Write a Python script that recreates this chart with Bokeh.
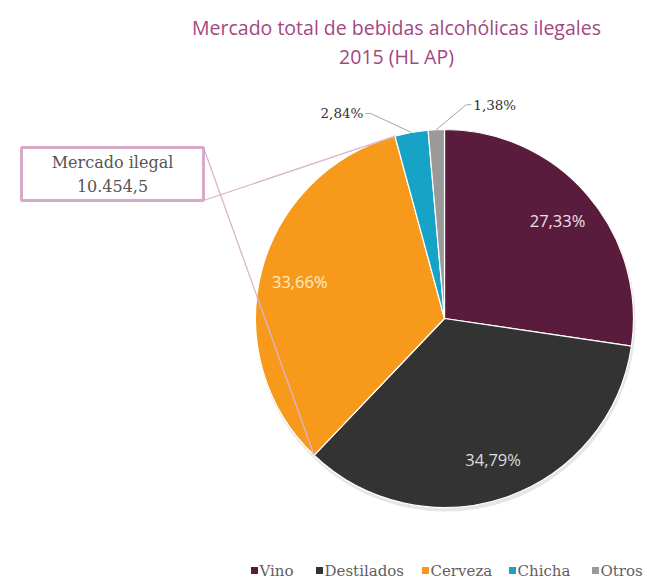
import math
from bokeh.plotting import figure
from bokeh.models import Range1d, ColumnDataSource
from bokeh.core.properties import value
from bokeh.embed import file_html
from bokeh.resources import INLINE

# ---- data ----
categories = ["Vino", "Destilados", "Cerveza", "Chicha", "Otros"]
shares = [27.33, 34.79, 33.66, 2.84, 1.38]
share_labels = ["27,33%", "34,79%", "33,66%", "2,84%", "1,38%"]
colors = ["#5a1c3c", "#333333", "#f79a1b", "#17a3c8", "#9a9a9a"]
title_lines = ["Mercado total de bebidas alcohólicas ilegales", "2015 (HL AP)"]
callout_lines = ["Mercado ilegal", "10.454,5"]

# ---- layout (image pixel coords; data y = 581 - img y) ----
W, H = 647, 581
def Y(img_y):
    return H - img_y

CX, CY, R = 444, Y(318), 189

p = figure(width=W, height=H, output_backend="svg", toolbar_location=None,
           x_range=Range1d(0, W), y_range=Range1d(0, H),
           min_border=0, outline_line_color=None)
p.axis.visible = False
p.grid.visible = False
p.background_fill_color = "white"

total = sum(shares)
cum = [0.0]
for s in shares:
    cum.append(cum[-1] + s / total)
starts = [math.pi / 2 - 2 * math.pi * cum[i + 1] for i in range(len(shares))]
ends = [math.pi / 2 - 2 * math.pi * cum[i] for i in range(len(shares))]
mids = [(a + b) / 2 for a, b in zip(starts, ends)]

# faint shadow
p.wedge(x=CX + 1, y=CY - 3, radius=R + 1, start_angle=0, end_angle=2 * math.pi,
        fill_color="#e6e6e6", line_color=None)

src = ColumnDataSource(dict(start=starts, end=ends, color=colors, cat=categories))
p.wedge(x=CX, y=CY, radius=R, start_angle="start", end_angle="end",
        fill_color="color", line_color="white", line_width=1.2, source=src)

# inner labels
inner_colors = ["#efe0e8", "#dddddd", "#fdebc4"]
for i in range(3):
    a = mids[i]
    p.text(x=[CX + 0.79 * R * math.cos(a)], y=[CY + 0.79 * R * math.sin(a)],
           text=[share_labels[i]], text_font=value("Open Sans"),
           text_font_size="16.5px", text_color=inner_colors[i],
           text_align="center", text_baseline="middle")

# outer labels with leader lines
for i, (dx_el, dy_el, side) in zip([3, 4], [(-41, 19, -1), (30, 25, 1)]):
    a = mids[i]
    ex, ey = CX + R * math.cos(a), CY + R * math.sin(a)
    elx, ely = ex + dx_el, ey + dy_el
    tail = elx + side * 5
    p.line(x=[ex, elx, tail], y=[ey, ely, ely], line_color="#a6a6a6", line_width=1)
    p.text(x=[tail + side * 2], y=[ely], text=[share_labels[i]],
           text_font=value("DejaVu Serif"), text_font_size="13.5px",
           text_color="#333333", text_align="left" if side > 0 else "right",
           text_baseline="middle")

# callout box and connector lines to the Cerveza slice edges
bx0, bx1, by0, by1 = 21, 203, 147, 200
p_end = (CX + R * math.cos(ends[2]), CY + R * math.sin(ends[2]))
p_start = (CX + R * math.cos(starts[2]), CY + R * math.sin(starts[2]))
p.line(x=[bx1, p_end[0]], y=[Y(by0), p_end[1]], line_color="#dcb3cf", line_width=1.3)
p.line(x=[bx1, p_start[0]], y=[Y(by1), p_start[1]], line_color="#dcb3cf", line_width=1.3)
p.quad(left=[bx0], right=[bx1], top=[Y(by0)], bottom=[Y(by1)],
       fill_color="white", line_color="#d8a9c9", line_width=3)
for k, t in enumerate(callout_lines):
    p.text(x=[(bx0 + bx1) / 2], y=[Y(162 + 23 * k)], text=[t],
           text_font=value("DejaVu Serif"), text_font_size="16px",
           text_color="#555555", text_align="center", text_baseline="middle")

# title
for k, t in enumerate(title_lines):
    p.text(x=[396], y=[Y(27 + 29 * k)], text=[t], text_font=value("Open Sans"),
           text_font_size="19.5px", text_color="#a3477f",
           text_align="center", text_baseline="middle")

# legend
leg_x = [254, 319, 425, 512, 595]
leg_y = Y(570)
for xx, c, name in zip(leg_x, colors, categories):
    p.rect(x=[xx], y=[leg_y], width=7, height=7, fill_color=c, line_color=None)
    p.text(x=[xx + 5], y=[leg_y], text=[name], text_font=value("DejaVu Serif"),
           text_font_size="15px", text_color="#606060",
           text_align="left", text_baseline="middle")

open("out.html", "w").write(file_html(p, INLINE))
